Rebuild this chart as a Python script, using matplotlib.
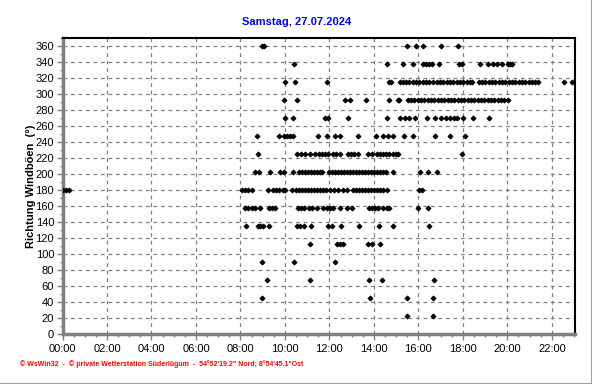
#!/usr/bin/env python
# -*- coding: utf-8 -*-

'''
Richtung Windboeen - Tagesverlauf Samstag, 27.07.2024
'''

import matplotlib
matplotlib.use('Agg')
import matplotlib.pyplot as plt
from matplotlib.lines import Line2D
from matplotlib.ticker import MultipleLocator, FuncFormatter

plt.rcParams['font.family'] = ['Liberation Sans', 'DejaVu Sans']

# title / labels
title = 'Samstag, 27.07.2024'
ylabel = 'Richtung Windböen  (°)'
footer = ('© WsWin32  -  © private Wetterstation Süderlügum  -  '
          '54°52\'19.2" Nord; 8°54\'45.1"Ost')

# gust direction classes (degrees)
directions = [360, 337.5, 315, 292.5, 270, 247.5, 225, 202.5, 180,
              157.5, 135, 112.5, 90, 67.5, 45, 22.5]

# time of day (hours) at which each direction class was measured
t360 = [8.98, 9.08, 15.47, 15.88, 16.19, 17.00, 17.77]
t337 = [10.39, 14.57, 15.29, 15.74, 16.19, 16.33, 16.46, 16.60, 16.91,
        17.81, 17.95, 18.76, 19.12, 19.34, 19.52, 19.75, 20.02, 20.11, 20.20]
t315 = [9.99, 10.44, 11.88, 14.67, 14.76,
        15.16, 15.30, 15.45, 15.60, 15.75, 15.90, 16.05, 16.20, 16.35, 16.50, 16.64,
        16.82, 16.97, 17.12, 17.27, 17.42, 17.57, 17.72, 17.87, 18.02, 18.17, 18.30, 18.42,
        18.71, 18.86, 19.01, 19.16, 19.31, 19.46, 19.61, 19.76, 19.91, 20.06,
        20.21, 20.36, 20.51, 20.66, 20.81, 20.96, 21.11, 21.24, 21.37,
        22.54, 22.90]
t292 = [9.94, 10.53, 12.69, 12.91, 13.63, 14.67, 15.07, 15.11,
        15.52, 15.67, 15.82, 15.97, 16.12, 16.27, 16.42, 16.57, 16.72, 16.87,
        17.02, 17.17, 17.32, 17.47, 17.62, 17.77, 17.92, 18.07, 18.22, 18.37,
        18.52, 18.67, 18.82, 18.97, 19.12, 19.27, 19.42, 19.57, 19.72, 19.87, 20.02]
t270 = [9.99, 10.35, 11.79, 11.92, 12.82, 14.57, 15.16, 15.38, 15.60, 15.83,
        16.37, 16.73, 17.00, 17.23, 17.40, 17.60, 17.72, 17.99, 18.44, 19.16]
t247 = [8.73, 9.72, 9.94, 10.08, 10.21, 10.35, 11.47, 11.88, 12.24, 12.46,
        13.27, 14.08, 14.40, 14.62, 14.84, 15.34, 15.74, 16.73, 17.41, 18.08]
t225 = [8.77, 10.53, 10.71, 10.89, 11.11, 11.34, 11.52, 11.65, 11.79, 11.92,
        12.15, 12.28, 12.46, 12.82, 12.95, 13.09, 13.27, 13.72, 13.90, 14.12,
        14.26, 14.40, 14.53, 14.67, 14.84, 14.98, 15.07, 17.95]
t202 = [8.64, 8.82, 9.31, 9.76, 9.94, 10.35, 10.62, 10.75, 10.89, 11.02,
        11.16, 11.29, 11.43, 11.56, 11.65, 11.97, 12.10, 12.24, 12.37, 12.51,
        12.64, 12.78, 12.91, 13.05, 13.18, 13.32, 13.45, 13.59, 13.72, 13.86,
        14.00, 14.13, 14.26, 14.40, 14.53, 14.84, 16.06, 16.42, 16.82]
t180 = [0.00, 0.15, 0.30, 8.05, 8.20, 8.35, 8.50, 9.22, 9.45, 9.60, 9.75,
        9.90, 10.00, 10.30, 10.48, 10.62, 10.75, 10.89, 11.02, 11.16, 11.29,
        11.43, 11.56, 11.70, 11.84, 12.01, 12.20, 12.40, 12.60, 12.78, 13.05,
        13.18, 13.32, 13.45, 13.59, 13.72, 13.86, 14.00, 14.13, 14.26, 14.40,
        14.57, 16.01, 16.15]
t157 = [8.19, 8.32, 8.50, 8.64, 8.86, 9.27, 9.40, 9.54, 10.57, 10.71, 10.85,
        11.07, 11.20, 11.43, 11.70, 11.88, 12.01, 12.15, 12.46, 12.78, 13.00,
        13.77, 13.90, 14.04, 14.17, 14.40, 14.57, 14.67, 15.97, 16.42]
t135 = [8.23, 8.77, 8.90, 9.00, 9.27, 10.53, 10.66, 10.85, 11.16, 11.92,
        12.10, 12.51, 13.32, 14.22, 14.84, 16.46]
t112 = [11.11, 12.33, 12.46, 12.60, 13.72, 13.90, 14.26]
t90 = [8.95, 10.39, 12.24]
t67 = [9.18, 11.11, 13.77, 14.35, 16.69]
t45 = [8.95, 13.81, 15.47, 16.64]
t22 = [15.47, 16.64]

times = [t360, t337, t315, t292, t270, t247, t225, t202, t180,
         t157, t135, t112, t90, t67, t45, t22]

grey = '#808080'

fig = plt.figure(figsize=(5.92, 3.84), dpi=100)
fig.patch.set_facecolor('white')
ax = fig.add_axes([62.5 / 592, 1 - 334 / 384, 512 / 592, 296 / 384])

# one row of diamonds per direction class
for d, t in zip(directions, times):
    ax.plot(t, [d] * len(t), linestyle='none', marker='D',
            markersize=2.6, markeredgewidth=0.6, color='black', zorder=3)

ax.set_xlim(0, 23.02)
ax.set_ylim(0, 370)

# axes: hours every 2h, 30 min minor ticks
ax.xaxis.set_major_locator(MultipleLocator(2))
ax.xaxis.set_minor_locator(MultipleLocator(0.5))
ax.xaxis.set_major_formatter(FuncFormatter(lambda v, p: '%02d:00' % int(round(v))))
ax.yaxis.set_major_locator(MultipleLocator(20))
ax.yaxis.set_minor_locator(MultipleLocator(10))

ax.tick_params(axis='both', which='major', direction='out', length=4,
               width=1, color=grey, labelsize=8, pad=2)
ax.tick_params(axis='both', which='minor', direction='out', length=2,
               width=1, color=grey)
ax.tick_params(axis='x', which='major', pad=3)

ax.grid(True, which='major', color=grey, linestyle=(0, (3, 3)), linewidth=0.9)
ax.set_axisbelow(True)

for side in ['left', 'bottom']:
    ax.spines[side].set_color(grey)
    ax.spines[side].set_linewidth(2.5)
for side in ['top', 'right']:
    ax.spines[side].set_color('black')
    ax.spines[side].set_linewidth(1.5)

ax.set_ylabel(ylabel, fontsize=8, fontweight='bold', labelpad=0)

fig.text(297 / 592, 1 - 22 / 384, title, color='#0000ff', fontsize=8,
         fontweight='bold', ha='center', va='center')
fig.text(20 / 592, 1 - 364 / 384, footer, color='#ff0000', fontsize=5,
         fontweight='bold', ha='left', va='center')

# grey frame on right and bottom of the picture
fig.add_artist(Line2D([591.5 / 592, 591.5 / 592], [0, 1], color='#a0a0a0', lw=1.5))
fig.add_artist(Line2D([0, 1], [0.5 / 384, 0.5 / 384], color='#a0a0a0', lw=1.5))

fig.savefig('out.png', dpi=100)
